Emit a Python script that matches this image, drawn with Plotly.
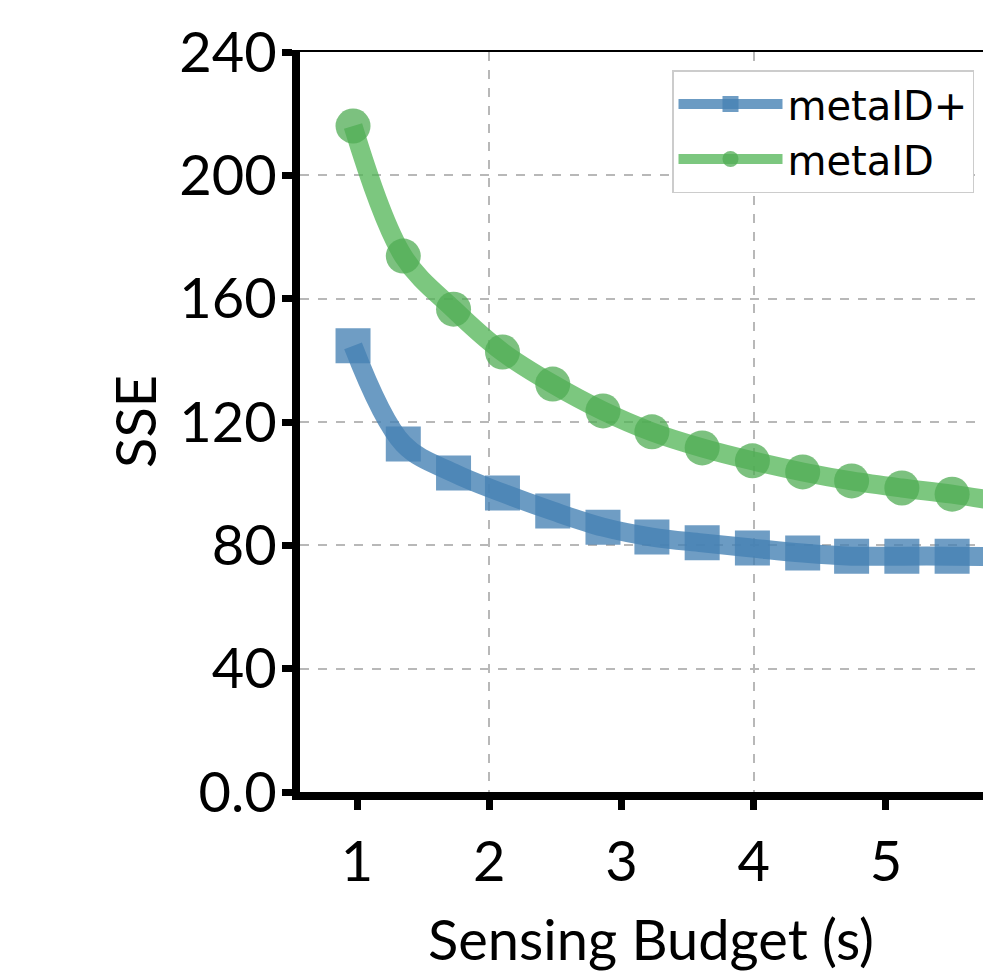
import plotly.graph_objects as go

# ---- data ----
budget = [0.97, 1.35, 1.73, 2.10, 2.48, 2.86, 3.23, 3.61, 3.99, 4.37, 4.74, 5.12, 5.50, 5.88]
sse_metaid_plus = [144.7, 112.9, 103.5, 97.0, 91.1, 85.9, 82.7, 80.8, 79.1, 77.5, 76.5, 76.5, 76.5, 76.3]
sse_metaid = [216.0, 173.8, 156.6, 142.7, 132.3, 123.6, 116.8, 111.6, 107.4, 103.8, 100.9, 98.6, 96.6, 94.0]

x_ticks = [1, 2, 3, 4, 5, 6]
x_grid = [2, 4, 6]
y_ticks = [0, 40, 80, 120, 160, 200, 240]
y_ticktext = ["0.0", "40", "80", "120", "160", "200", "240"]

BLUE_LINE = "rgba(70,130,180,0.80)"
BLUE_MK = "rgba(70,130,180,0.78)"
GREEN_LINE = "rgba(80,180,84,0.75)"
GREEN_MK = "rgba(80,172,84,0.75)"

TICK_FONT = dict(family="Lato", size=56, color="black")
X_RANGE = [0.569, 5.794]

fig = go.Figure()
fig.add_trace(go.Scatter(
    x=budget, y=sse_metaid_plus, name="metaID+", mode="lines+markers",
    line=dict(color=BLUE_LINE, width=19, shape="spline"),
    marker=dict(symbol="square", size=35, color=BLUE_MK, line=dict(width=0)),
))
fig.add_trace(go.Scatter(
    x=budget, y=sse_metaid, name="metaID", mode="lines+markers",
    line=dict(color=GREEN_LINE, width=19, shape="spline"),
    marker=dict(symbol="circle", size=35, color=GREEN_MK, line=dict(width=0)),
))
# invisible helper so the overlay axis (grid every 2 units + thin top frame) is drawn
fig.add_trace(go.Scatter(
    x=budget, y=sse_metaid, xaxis="x2", mode="markers",
    marker=dict(opacity=0), showlegend=False, hoverinfo="skip",
))

fig.update_layout(
    width=983, height=967,
    margin=dict(l=292, r=0, t=44, b=183),
    paper_bgcolor="white", plot_bgcolor="white",
    showlegend=True,
    legend=dict(
        x=(672 - 300) / 691, y=1 - (70 - 52) / 740, xanchor="left", yanchor="top",
        bgcolor="white", bordercolor="#cccccc", borderwidth=1.5,
        font=dict(family="DejaVu Sans", size=40, color="black"),
        itemwidth=104, tracegroupgap=0,
    ),
    xaxis=dict(
        range=X_RANGE, tickvals=x_ticks, tickfont=TICK_FONT,
        showgrid=False, zeroline=False,
        showline=True, linecolor="black", linewidth=8,
        ticks="outside", ticklen=10, tickwidth=7, tickcolor="black",
        ticklabelstandoff=4,
    ),
    xaxis2=dict(
        overlaying="x", side="top", range=X_RANGE,
        tickvals=x_grid, showticklabels=False, ticks="",
        showgrid=True, gridcolor="#b8b8b8", griddash="dash", gridwidth=1.5,
        showline=True, linecolor="black", linewidth=2, zeroline=False,
    ),
    yaxis=dict(
        range=[0, 240], tickvals=y_ticks, ticktext=y_ticktext, tickfont=TICK_FONT,
        showgrid=True, gridcolor="#b8b8b8", griddash="dash", gridwidth=1.5,
        zeroline=False,
        showline=True, linecolor="black", linewidth=8,
        ticks="outside", ticklen=10, tickwidth=7, tickcolor="black",
        ticklabelstandoff=-6,
    ),
    annotations=[
        dict(text="Sensing Budget (s)", xref="paper", yref="paper",
             x=(651 - 300) / 691, y=-(938 - 792) / 740, xanchor="center", yanchor="middle",
             showarrow=False, font=dict(family="Lato", size=56, color="black")),
        dict(text="SSE", xref="paper", yref="paper", textangle=-90,
             x=-(300 - 134) / 691, y=0.5, xanchor="center", yanchor="middle",
             showarrow=False, font=dict(family="Lato", size=56, color="black")),
    ],
)

fig.write_html("out.html")
